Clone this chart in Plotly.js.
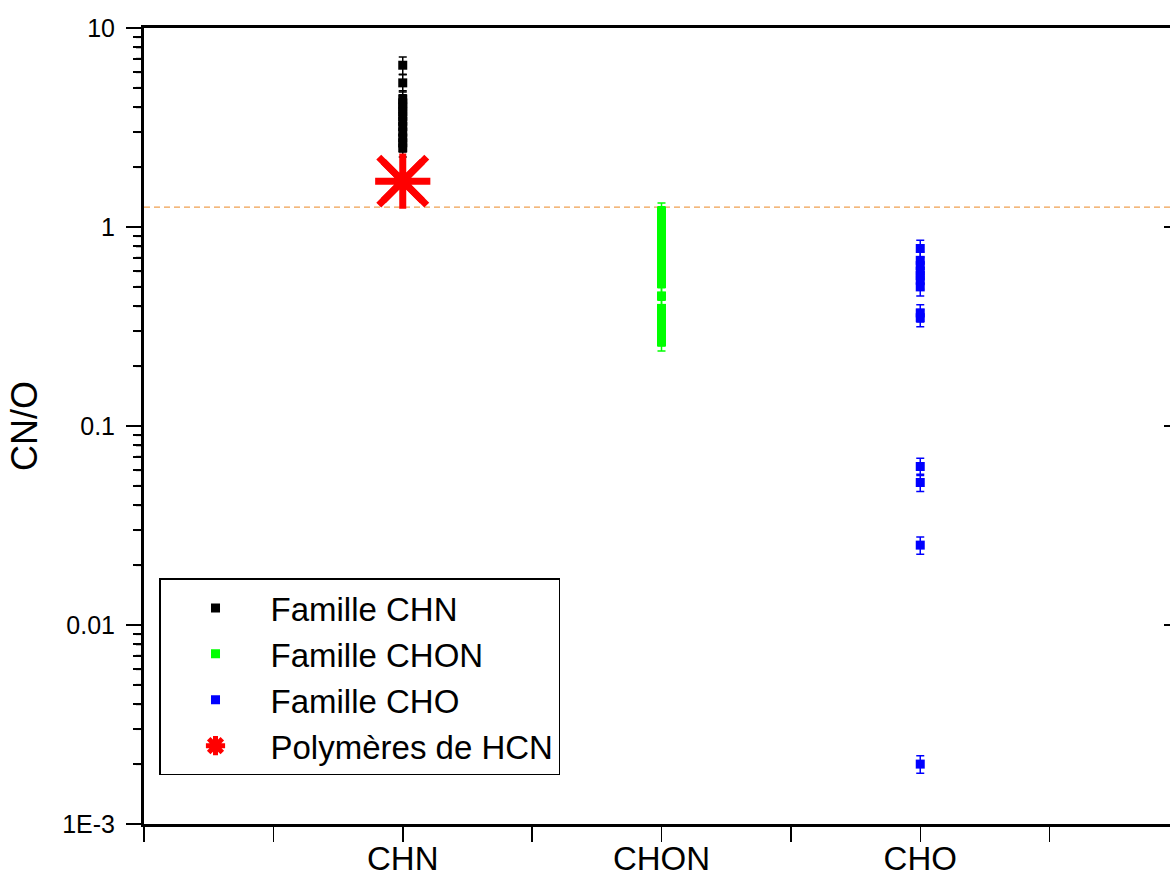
<!DOCTYPE html>
<html>
<head>
<meta charset="utf-8">
<script src="https://cdn.plot.ly/plotly-3.0.1.min.js"></script>
<style>
html,body{margin:0;padding:0;overflow:hidden;background:#fff;}
#chart{width:1180px;height:879px;}
</style>
</head>
<body>
<div id="chart"></div>
<script>
// ---- data ----
const categories = ["CHN", "CHON", "CHO"];
const categoryPositions = [1, 2, 3];
const chnValues = [6.5, 5.3, 4.4, 4.2, 4.0, 3.8, 3.6, 3.4, 3.2, 3.0, 2.8, 2.65, 2.5];
const chonValues = [1.2, 1.15, 1.1, 1.05, 1.0, 0.95, 0.9, 0.85, 0.8, 0.75, 0.7, 0.65, 0.6, 0.56, 0.52,
                    0.45, 0.39, 0.37, 0.35, 0.33, 0.31, 0.295, 0.28, 0.265];
const choValues = [0.78, 0.68, 0.64, 0.6, 0.57, 0.54, 0.5, 0.37, 0.35, 0.0626, 0.052, 0.0252, 0.002];
const hcnPolymer = [1.7];
const errorPercent = 10;
const thresholdValue = 1.26;
const yTickVals = [0.001, 0.01, 0.1, 1, 10];
const yTickText = ["1E-3", "0.01", "0.1", "1", "10"];
const xTickVals = [0, 0.5, 1, 1.5, 2, 2.5, 3, 3.5];
const legendNames = ["Famille CHN", "Famille CHON", "Famille CHO", "Polymères de HCN"];

const FONT = "'Liberation Sans', Arial, sans-serif";

// minor log tick positions (2..9 within each decade)
const yMinorVals = [];
for (let e = -3; e < 1; e++) for (let d = 2; d <= 9; d++) yMinorVals.push(d * Math.pow(10, e));

function rep(v, n) { return Array(n).fill(v); }
function famTrace(pos, vals, color, name) {
  return {
    type: "scatter", mode: "markers", name: name,
    x: rep(pos, vals.length), y: vals,
    marker: {symbol: "square", size: 9, color: color},
    error_y: {type: "percent", value: errorPercent, color: color, thickness: 1.5, width: 4},
    cliponaxis: false
  };
}

const traces = [
  famTrace(categoryPositions[0], chnValues, "#000000", legendNames[0]),
  famTrace(categoryPositions[1], chonValues, "#00ff00", legendNames[1]),
  famTrace(categoryPositions[2], choValues, "#0000ff", legendNames[2]),
  {
    type: "scatter", mode: "markers", name: legendNames[3],
    x: [categoryPositions[0]], y: hcnPolymer,
    marker: {symbol: "asterisk", size: 46, color: "#ff0000", line: {color: "#ff0000", width: 7}}
  },
  {
    type: "scatter", mode: "markers", showlegend: false, hoverinfo: "skip",
    x: [categoryPositions[0]], y: hcnPolymer,
    marker: {symbol: "x-thin", size: 48, color: "#ff0000", line: {color: "#ff0000", width: 7}}
  },
  {
    type: "scatter", mode: "markers", showlegend: false, hoverinfo: "skip",
    x: [categoryPositions[0]], y: hcnPolymer, yaxis: "y2",
    marker: {size: 1, opacity: 0}
  }
];

const xTickText = xTickVals.map(v => {
  const i = categoryPositions.indexOf(v);
  return i >= 0 ? categories[i] : "";
});

// label aliases for the log axis decades
const yLabelAlias = {};
yTickVals.forEach((v, i) => { yLabelAlias[String(v)] = yTickText[i]; });

const PLOT_W = 1180 - 144 - 1;
const minorTickShapes = yMinorVals.map(v => ({
  type: "line", xref: "paper", x0: -8 / PLOT_W, x1: 0, yref: "y", y0: v, y1: v,
  line: {color: "#000", width: 2}, layer: "above"
}));

const layout = {
  width: 1180, height: 879,
  margin: {l: 144, r: 1, t: 28, b: 55},
  paper_bgcolor: "#ffffff", plot_bgcolor: "#ffffff",
  font: {family: FONT, color: "#000"},
  showlegend: true,
  legend: {
    x: 0.0145, y: 0.1847, xanchor: "left", yanchor: "middle",
    bgcolor: "#ffffff", bordercolor: "#000000", borderwidth: 1.5,
    font: {family: FONT, size: 33, color: "#000"},
    itemwidth: 100
  },
  xaxis: {
    range: [0, 4], showgrid: false, zeroline: false,
    showline: true, linecolor: "#000", linewidth: 3, mirror: true,
    ticks: "outside", ticklen: 15, tickwidth: 1.5, tickcolor: "#000",
    tickvals: xTickVals, ticktext: xTickText,
    ticklabelstandoff: -12,
    tickfont: {family: FONT, size: 33, color: "#000"}
  },
  yaxis: {
    type: "log", range: [-3, 1], showgrid: false, zeroline: false,
    showline: true, linecolor: "#000", linewidth: 3, mirror: true,
    tickmode: "linear", tick0: 0, dtick: 1, exponentformat: "none",
    labelalias: yLabelAlias,
    ticks: "outside", ticklen: 15, tickwidth: 2, tickcolor: "#000",
    ticklabelstandoff: 6,
    tickfont: {family: FONT, size: 25, color: "#000"},
    minor: {ticks: "outside", ticklen: 8, tickwidth: 2, tickcolor: "#000", dtick: "D1", showgrid: false},
    title: {text: "CN/O", font: {family: FONT, size: 36, color: "#000"}, standoff: 14}
  },
  yaxis2: {
    type: "log", range: [-3, 1], overlaying: "y", side: "right", anchor: "x",
    showgrid: false, zeroline: false, showline: false,
    ticks: "inside", ticklen: 15, tickwidth: 2, tickcolor: "#000",
    tickvals: yTickVals, showticklabels: false
  },
  shapes: [{
    type: "line", xref: "paper", x0: 0, x1: 1, yref: "y", y0: thresholdValue, y1: thresholdValue,
    line: {color: "#f0a050", width: 1.2, dash: "6px,4px"}, layer: "below"
  }].concat(minorTickShapes)
};

Plotly.newPlot("chart", traces, layout, {staticPlot: true, displayModeBar: false});
</script>
</body>
</html>
